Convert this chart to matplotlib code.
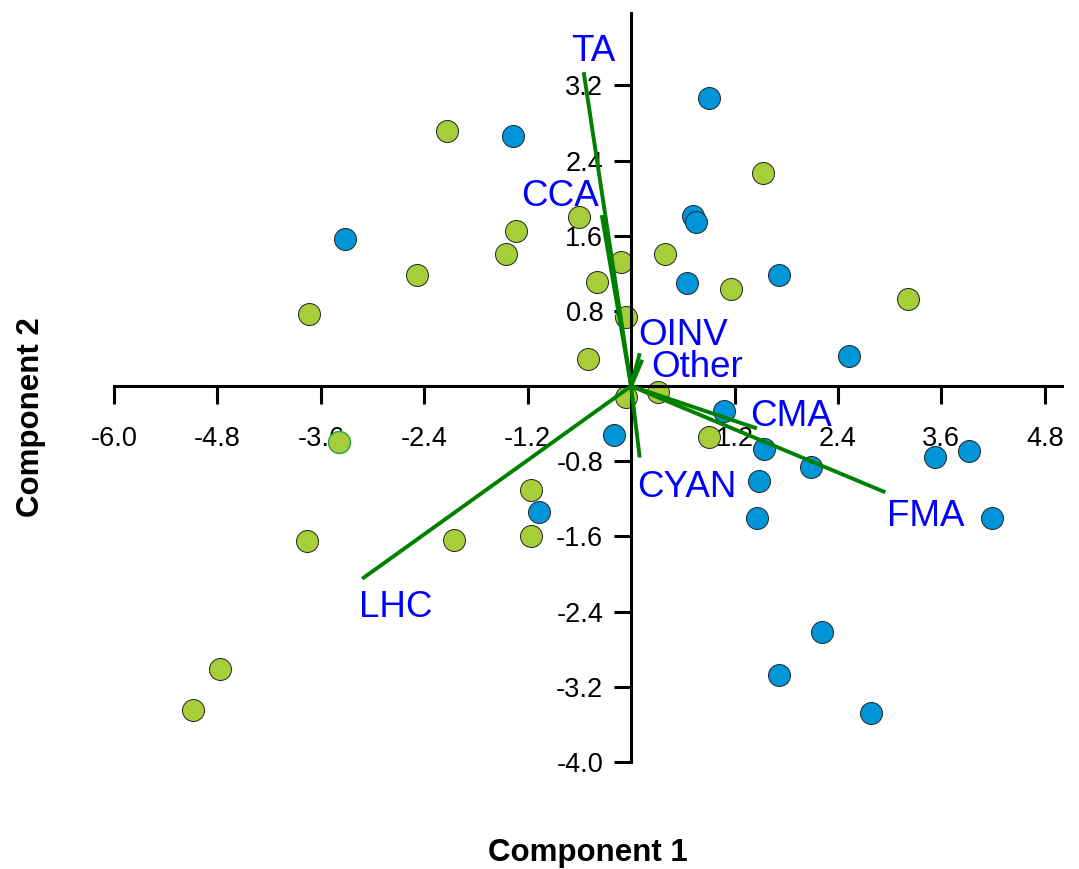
"""
PCA biplot - Component 1 vs Component 2
"""

import numpy as np
import matplotlib.pyplot as plt

plt.rcParams['font.family'] = ['Liberation Sans', 'DejaVu Sans']

# scores, group 1 (green)
green_x = [-2.14, -2.48, -3.74, -1.45, -1.34, -0.60, -0.12, -0.40, -0.06, -0.50,
           -0.06, 0.31, 0.39, 1.16, 1.53, 3.21, 0.90, -1.16, -1.16, -2.05,
           -3.76, -4.77, -5.08]
green_y = [2.71, 1.18, 0.77, 1.41, 1.65, 1.80, 1.32, 1.11, 0.73, 0.29,
           -0.12, -0.06, 1.41, 1.03, 2.27, 0.93, -0.54, -1.11, -1.60, -1.64,
           -1.65, -3.01, -3.45]
# the odd one with a green outline
odd_x = [-3.39]
odd_y = [-0.60]

# scores, group 2 (blue)
blue_x = [0.90, -1.37, -3.32, 0.72, 0.75, 0.65, 1.72, 2.53, 1.08, -0.20,
          1.54, 2.09, 1.48, 1.46, -1.07, 3.53, 3.92, 4.19, 2.22, 1.72, 2.78]
blue_y = [3.07, 2.66, 1.56, 1.81, 1.75, 1.10, 1.18, 0.32, -0.26, -0.52,
          -0.67, -0.86, -1.01, -1.40, -1.34, -0.75, -0.69, -1.40, -2.62, -3.07,
          -3.48]

# loadings
var_names = ['TA', 'CCA', 'OINV', 'Other', 'CMA', 'CYAN', 'FMA', 'LHC']
load_x = [-0.55, -0.34, 0.10, 0.13, 1.46, 0.10, 2.95, -3.12]
load_y = [3.34, 1.82, 0.35, 0.28, -0.45, -0.76, -1.13, -2.05]
label_x = [-0.70, -1.28, 0.08, 0.23, 1.38, 0.07, 2.97, -3.16]
label_y = [3.46, 1.92, 0.44, 0.10, -0.42, -1.18, -1.49, -2.46]

x_ticks = [-6.0, -4.8, -3.6, -2.4, -1.2, 1.2, 2.4, 3.6, 4.8]
y_ticks = [3.2, 2.4, 1.6, 0.8, -0.8, -1.6, -2.4, -3.2, -4.0]

GREEN = '#a6ce39'
BLUE = '#0095d9'

fig = plt.figure(figsize=(10.79, 8.69), dpi=100)
ax = fig.add_axes([114 / 1079, 1 - 762 / 869, 948 / 1079, 749 / 869])

ax.scatter(green_x, green_y, s=250, c=GREEN, edgecolors='#222222', linewidths=0.7, zorder=2)
ax.scatter(odd_x, odd_y, s=250, c=GREEN, edgecolors='#22a04a', linewidths=1.0, zorder=2)
ax.scatter(blue_x, blue_y, s=250, c=BLUE, edgecolors='#222222', linewidths=0.7, zorder=2)

for name, lx, ly, tx, ty in zip(var_names, load_x, load_y, label_x, label_y):
    ax.plot([0, lx], [0, ly], color='#008000', lw=2.8, zorder=3, solid_capstyle='butt')
    ax.text(tx, ty, name, color='#0000ff', fontsize=26.5, ha='left', va='baseline', zorder=4)

ax.set_xlim(-6.0, 5.0)
ax.set_ylim(-4.0, 3.97)

# axes through the origin
for side in ['top', 'right']:
    ax.spines[side].set_visible(False)
ax.spines['left'].set_position(('data', 0))
ax.spines['bottom'].set_position(('data', 0))
ax.spines['left'].set_linewidth(2.2)
ax.spines['bottom'].set_linewidth(2.2)

ax.set_xticks(x_ticks)
ax.set_xticklabels([f'{v:.1f}' for v in x_ticks])
ax.set_yticks(y_ticks)
ax.set_yticklabels([f'{v:.1f}' for v in y_ticks])
ax.tick_params(axis='x', direction='out', length=13, width=2.2, pad=16, labelsize=19.5)
ax.tick_params(axis='y', direction='out', length=12, width=2.2, pad=8, labelsize=19.5)

fig.text(588 / 1079, 1 - 853 / 869, 'Component 1', fontsize=22.5, fontweight='bold',
         ha='center', va='center')
fig.text(31 / 1079, 1 - 417 / 869, 'Component 2', fontsize=22.5, fontweight='bold',
         ha='center', va='center', rotation=90)

plt.savefig('out.png', dpi=100)
